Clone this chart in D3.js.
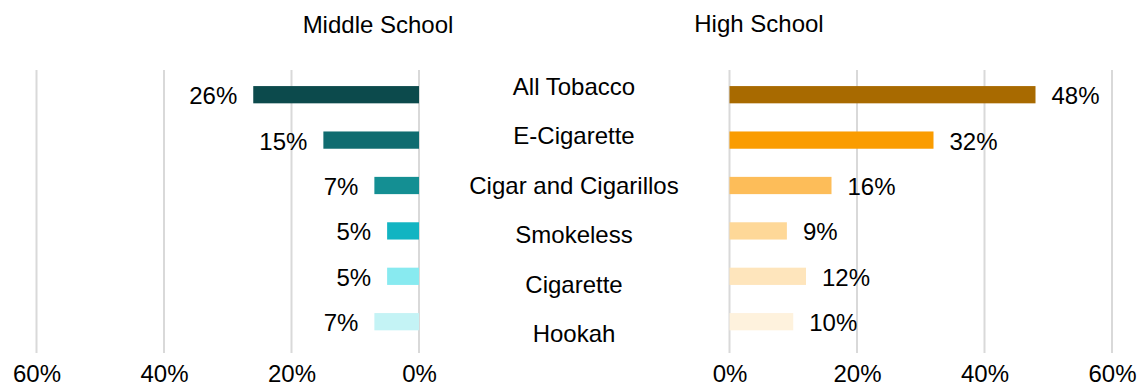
<!DOCTYPE html>
<html>
<head>
<meta charset="utf-8">
<script src="https://cdn.jsdelivr.net/npm/d3@7"></script>
<style>
  html, body { margin: 0; padding: 0; background: #fff; }
  svg { display: block; }
  text { font-family: "Liberation Sans", Arial, sans-serif; fill: #000; }
</style>
</head>
<body>
<svg id="chart" width="1142" height="388"></svg>
<script>
// Tobacco product use by school level
const categories = ["All Tobacco", "E-Cigarette", "Cigar and Cigarillos", "Smokeless", "Cigarette", "Hookah"];
const middleSchool = [26, 15, 7, 5, 5, 7];
const highSchool = [48, 32, 16, 9, 12, 10];
const tickValues = [0, 20, 40, 60];
const panelTitles = ["Middle School", "High School"];
const middleColors = ["#0c4a4c", "#106c70", "#148f93", "#12b4c2", "#88eaf0", "#c4f3f5"];
const highColors = ["#a86a00", "#fa9c00", "#fdbd59", "#fed898", "#fee5bc", "#fef2dd"];

const svg = d3.select("#chart");
const fontSize = 24;
const gridTop = 70, gridBottom = 353;

// Mirrored horizontal scales: left panel grows leftward, right panel rightward
const xLeft = d3.scaleLinear().domain([0, 60]).range([419, 36.5]);
const xRight = d3.scaleLinear().domain([0, 60]).range([729.5, 1112]);

// Bar rows
const y = d3.scaleBand().domain(categories).range([72, 344.4])
  .paddingInner(0.62).paddingOuter(0.31);
// Category label rows in the centre column
const yLabel = d3.scalePoint().domain(categories).range([95, 342]);

const fmt = d => d + "%";

function panel(x, values, colors, side) {
  const g = svg.append("g");

  // vertical gridlines
  g.selectAll("line.grid").data(tickValues).join("line")
    .attr("class", "grid")
    .attr("x1", d => x(d)).attr("x2", d => x(d))
    .attr("y1", gridTop).attr("y2", gridBottom)
    .attr("stroke", "#d9d9d9").attr("stroke-width", 2);

  // axis tick labels
  const axis = d3.axisBottom(x).tickValues(tickValues).tickFormat(fmt).tickSize(0).tickPadding(0);
  const ax = g.append("g").attr("transform", `translate(0,${gridBottom})`).call(axis);
  ax.select(".domain").remove();
  ax.selectAll("text")
    .attr("y", 29).attr("dy", null)
    .style("font-size", fontSize + "px")
    .style("font-family", '"Liberation Sans", Arial, sans-serif')
    .attr("fill", "#000");

  // bars
  g.selectAll("rect").data(values).join("rect")
    .attr("x", d => Math.min(x(0), x(d)))
    .attr("width", d => Math.abs(x(d) - x(0)))
    .attr("y", (d, i) => y(categories[i]))
    .attr("height", y.bandwidth())
    .attr("fill", (d, i) => colors[i]);

  // value labels
  g.selectAll("text.val").data(values).join("text")
    .attr("class", "val")
    .attr("x", d => side === "left" ? x(d) - 16 : x(d) + 16)
    .attr("y", (d, i) => y(categories[i]) + y.bandwidth() / 2 + 9.5)
    .attr("text-anchor", side === "left" ? "end" : "start")
    .style("font-size", fontSize + "px")
    .text(fmt);
}

panel(xLeft, middleSchool, middleColors, "left");
panel(xRight, highSchool, highColors, "right");

// panel titles
svg.append("text").attr("x", 378).attr("y", 33).attr("text-anchor", "middle")
  .style("font-size", fontSize + "px").text(panelTitles[0]);
svg.append("text").attr("x", 759).attr("y", 32).attr("text-anchor", "middle")
  .style("font-size", fontSize + "px").text(panelTitles[1]);

// category labels
svg.selectAll("text.cat").data(categories).join("text")
  .attr("class", "cat")
  .attr("x", 574)
  .attr("y", d => yLabel(d))
  .attr("text-anchor", "middle")
  .style("font-size", fontSize + "px")
  .text(d => d);
</script>
</body>
</html>
